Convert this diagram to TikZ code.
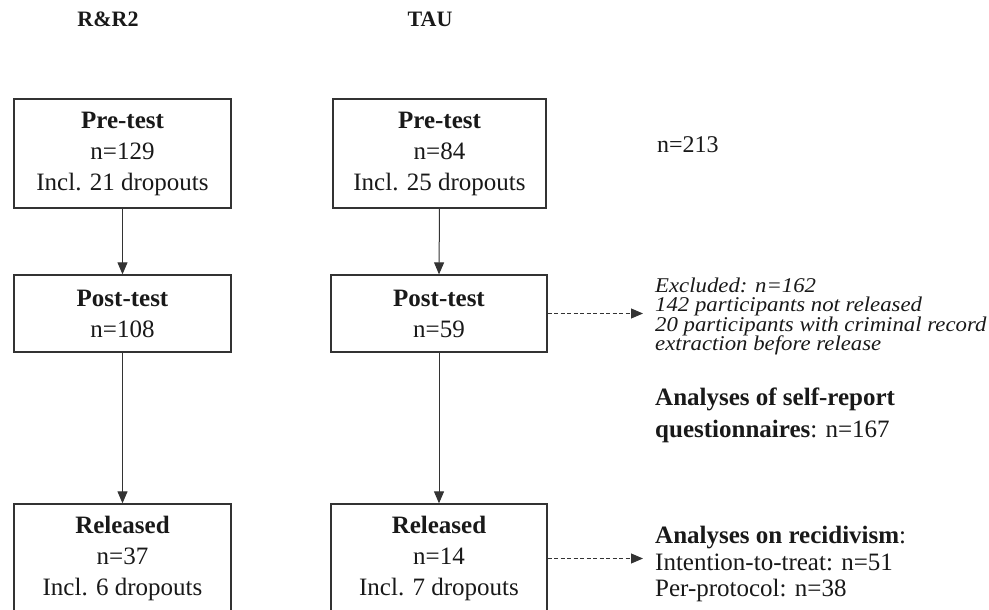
\documentclass[tikz,border=0pt]{standalone}
\usepackage{fontspec}
\setmainfont{Liberation Serif}
\newfontfamily\exfont[FakeStretch=1.085]{Liberation Serif}
\usetikzlibrary{arrows.meta}
\tikzset{
  box/.style={draw=black!80, line width=1.3pt, minimum width=217pt, inner sep=0pt, align=center, text=black!90,
    font=\fontsize{25}{31}\selectfont},
  hdr/.style={font=\fontsize{22}{26}\selectfont\bfseries, text=black!90, inner sep=0pt},
  flow/.style={draw=black!80, line width=1pt, -{Triangle[length=12pt,width=10pt]}},
  dflow/.style={draw=black!80, line width=1pt, dash pattern=on 4pt off 2.5pt, -{Triangle[length=12pt,width=10pt]}},
  rtxt/.style={anchor=base west, inner sep=0pt, text=black!90, font=\fontsize{25}{31}\selectfont},
  itxt/.style={anchor=base west, inner sep=0pt, text=black!90, font=\exfont\fontsize{21}{20}\selectfont\itshape},
}
\begin{document}
\begin{tikzpicture}[x=1pt, y=-1pt]
\useasboundingbox (0,0) rectangle (989,610);
\clip (0,0) rectangle (989,610);
\fill[white] (0,0) rectangle (989,610);

% headers
\node[hdr] (hA) at (108,19) {R\&R2};
\node[hdr] (hB) at (430,19) {TAU};

% boxes
\node[box, minimum height=109pt] (a1) at (122.5,153.5) {\textbf{Pre-test}\\n=129\\Incl. 21 dropouts};
\node[box, minimum height=109pt, minimum width=213pt] (b1) at (439.5,153.5) {\textbf{Pre-test}\\n=84\\Incl. 25 dropouts};
\node[box, minimum height=77pt] (a2) at (122.5,313.5) {\textbf{Post-test}\\n=108};
\node[box, minimum height=77pt, minimum width=216pt] (b2) at (439,313.5) {\textbf{Post-test}\\n=59};
\node[box, minimum height=109pt] (a3) at (122.5,558.5) {\textbf{Released}\\n=37\\Incl. 6 dropouts};
\node[box, minimum height=109pt, minimum width=216pt] (b3) at (439,558.5) {\textbf{Released}\\n=14\\Incl. 7 dropouts};

% vertical arrows
\draw[flow] (a1.south) -- (a2.north);
\draw[flow] (a2.south) -- (a3.north);
\draw[flow] (b1.south) -- (b2.north);
\draw[flow] (b2.south) -- (b3.north);

% right side texts
\node[rtxt, font=\fontsize{24}{31}\selectfont] (tot) at (657,153) {n=213};

\node[itxt] (ex1) at (655,292) {Excluded: n=162};
\node[itxt] (ex2) at (655,311.5) {142 participants not released};
\node[itxt] (ex3) at (655,331) {20 participants with criminal record};
\node[itxt] (ex4) at (655,350.5) {extraction before release};

\node[rtxt] (sr1) at (655,405) {\textbf{Analyses of self-report}};
\node[rtxt] (sr2) at (655,437) {\textbf{questionnaires}: n=167};

\node[rtxt] (rc1) at (655,543) {\textbf{Analyses on recidivism}:};
\node[rtxt] (rc2) at (655,570) {Intention-to-treat: n=51};
\node[rtxt] (rc3) at (655,596) {Per-protocol: n=38};

% dashed arrows
\coordinate (e1) at (643,313.5);
\coordinate (e2) at (643,558.5);
\draw[dflow] (b2.east) -- (e1);
\draw[dflow] (b3.east) -- (e2);
\end{tikzpicture}
\end{document}
